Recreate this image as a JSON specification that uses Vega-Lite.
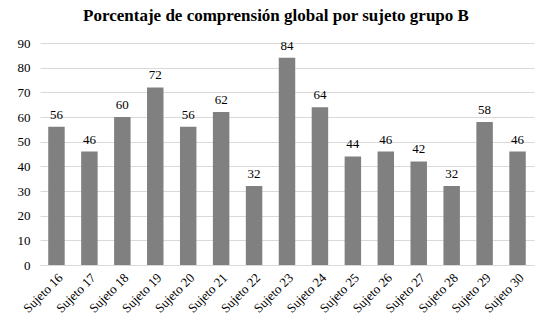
{
  "$schema": "https://vega.github.io/schema/vega-lite/v6.json",
  "width": 494,
  "height": 222,
  "autosize": {"type": "none"},
  "padding": {"left": 40, "top": 43, "right": 19, "bottom": 68},
  "background": "white",
  "title": {
    "text": "Porcentaje de comprensión global por sujeto grupo B",
    "font": "Times New Roman, Liberation Serif, serif",
    "fontSize": 17,
    "fontWeight": "bold",
    "color": "#000000",
    "anchor": "middle",
    "dx": -11,
    "offset": 12
  },
  "data": {
    "values": [
      {"sujeto": "Sujeto 16", "valor": 56},
      {"sujeto": "Sujeto 17", "valor": 46},
      {"sujeto": "Sujeto 18", "valor": 60},
      {"sujeto": "Sujeto 19", "valor": 72},
      {"sujeto": "Sujeto 20", "valor": 56},
      {"sujeto": "Sujeto 21", "valor": 62},
      {"sujeto": "Sujeto 22", "valor": 32},
      {"sujeto": "Sujeto 23", "valor": 84},
      {"sujeto": "Sujeto 24", "valor": 64},
      {"sujeto": "Sujeto 25", "valor": 44},
      {"sujeto": "Sujeto 26", "valor": 46},
      {"sujeto": "Sujeto 27", "valor": 42},
      {"sujeto": "Sujeto 28", "valor": 32},
      {"sujeto": "Sujeto 29", "valor": 58},
      {"sujeto": "Sujeto 30", "valor": 46}
    ]
  },
  "encoding": {
    "x": {
      "field": "sujeto",
      "type": "nominal",
      "sort": null,
      "scale": {"paddingInner": 0.5, "paddingOuter": 0.25},
      "axis": {
        "title": null,
        "labelAngle": -45,
        "labelFont": "Times New Roman, Liberation Serif, serif",
        "labelFontSize": 13,
        "labelColor": "#000000",
        "ticks": false,
        "domainColor": "#d9d9d9",
        "labelPadding": 6
      }
    },
    "y": {
      "field": "valor",
      "type": "quantitative",
      "scale": {"domain": [0, 90]},
      "axis": {
        "title": null,
        "values": [0, 10, 20, 30, 40, 50, 60, 70, 80, 90],
        "labelFont": "Times New Roman, Liberation Serif, serif",
        "labelFontSize": 13,
        "labelColor": "#000000",
        "ticks": false,
        "domain": false,
        "gridColor": "#d9d9d9",
        "labelPadding": 10
      }
    }
  },
  "layer": [
    {"mark": {"type": "bar", "color": "#808080"}},
    {
      "mark": {"type": "text", "dy": -12, "font": "Times New Roman, Liberation Serif, serif", "fontSize": 13, "color": "#000000"},
      "encoding": {"text": {"field": "valor", "type": "quantitative"}}
    }
  ],
  "config": {"view": {"stroke": null}}
}
